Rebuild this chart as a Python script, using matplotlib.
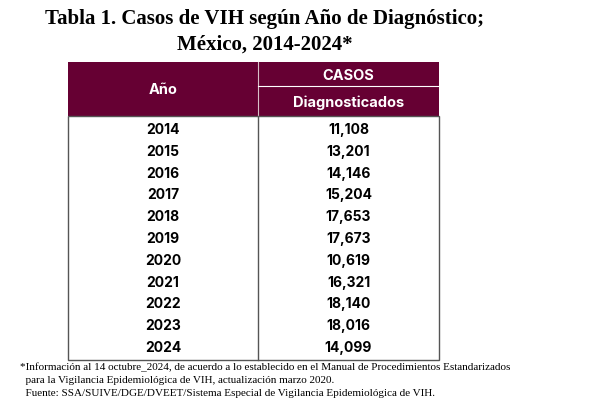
import matplotlib
matplotlib.use("Agg")
import matplotlib.pyplot as plt
from matplotlib.patches import Rectangle

years = ["2014","2015","2016","2017","2018","2019","2020","2021","2022","2023","2024"]
cases = ["11,108","13,201","14,146","15,204","17,653","17,673","10,619","16,321","18,140","18,016","14,099"]
title1 = "Tabla 1. Casos de VIH según Año de Diagnóstico;"
title2 = "México, 2014-2024*"
header_left = "Año"
header_top = "CASOS"
header_bottom = "Diagnosticados"
notes = ["*Información al 14 octubre_2024, de acuerdo a lo establecido en el Manual de Procedimientos Estandarizados",
         "  para la Vigilancia Epidemiológica de VIH, actualización marzo 2020.",
         "  Fuente: SSA/SUIVE/DGE/DVEET/Sistema Especial de Vigilancia Epidemiológica de VIH."]

maroon = "#660033"
fig = plt.figure(figsize=(6, 4.1), dpi=100)
ax = fig.add_axes([0, 0, 1, 1])
ax.set_xlim(0, 600); ax.set_ylim(410, 0); ax.axis("off")

serif = "Liberation Serif"
sans = "Inter"
ax.text(265, 19, title1, ha="center", va="center", fontsize=15, fontweight="bold", family=serif)
ax.text(265, 45, title2, ha="center", va="center", fontsize=15, fontweight="bold", family=serif)

x0, xm, x1 = 68, 258, 439
ytop, ysplit, yhead, ybot = 63, 87, 117, 361
ax.add_patch(Rectangle((x0, ytop), x1 - x0, yhead - ytop, color=maroon, lw=0))
ax.plot([xm, xm], [ytop, yhead], color="#d8c0c8", lw=0.8)
ax.plot([xm, x1], [ysplit, ysplit], color="white", lw=0.8)
ax.text((x0 + xm) / 2, (ytop + yhead) / 2, header_left, ha="center", va="center", color="white", fontsize=10.5, fontweight="bold", family=sans)
ax.text((xm + x1) / 2, (ytop + ysplit) / 2 + 1, header_top, ha="center", va="center", color="white", fontsize=10.5, fontweight="bold", family=sans)
ax.text((xm + x1) / 2, (ysplit + yhead) / 2 + 1, header_bottom, ha="center", va="center", color="white", fontsize=10.5, fontweight="bold", family=sans)

ax.add_patch(Rectangle((x0, yhead), x1 - x0, ybot - yhead, fill=False, ec="#555555", lw=1))
ax.plot([xm, xm], [yhead, ybot], color="#555555", lw=1)
rh = (ybot - yhead - 4) / len(years)
for i, (y, c) in enumerate(zip(years, cases)):
    yy = yhead + 2 + rh * (i + 0.5)
    ax.text((x0 + xm) / 2, yy, y, ha="center", va="center", fontsize=10, fontweight="bold", family=sans)
    ax.text((xm + x1) / 2, yy, c, ha="center", va="center", fontsize=10, fontweight="bold", family=sans)

for i, n in enumerate(notes):
    ax.text(20, 368 + i * 13, n, ha="left", va="center", fontsize=8, family=serif)

fig.savefig("out.png", dpi=100, facecolor="white")
